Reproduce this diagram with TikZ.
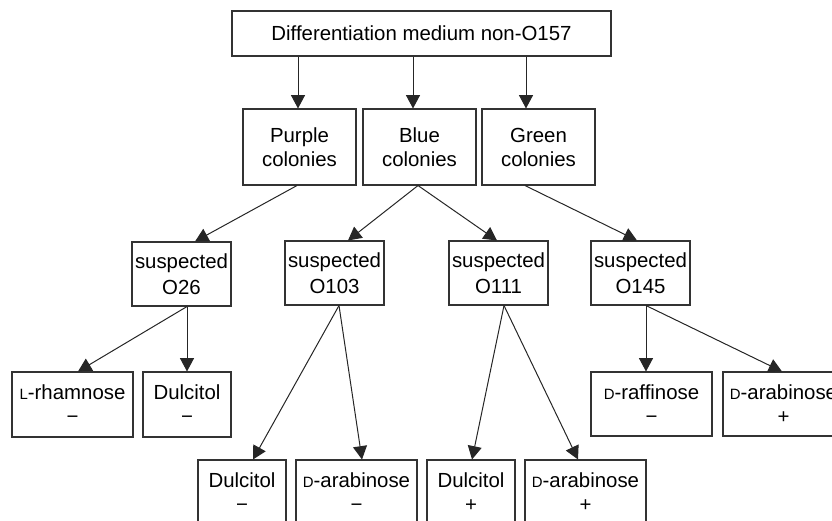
\documentclass[tikz,border=0pt]{standalone}
\usepackage{fontspec}
\setmainfont{Liberation Sans}
\usetikzlibrary{arrows.meta,calc}
\newcommand{\smc}[1]{{\fontsize{11.2}{11.2}\selectfont #1}}
\begin{document}
\begin{tikzpicture}[x=0.75pt,y=-0.75pt,
  box/.style 2 args={draw=black!80, line width=0.8pt, fill=white, align=center,
    inner sep=0pt, font=\fontsize{15.3}{18}\selectfont,
    minimum width=#1*0.75pt, minimum height=#2*0.75pt},
  wide/.style={font=\fontsize{15.3}{19.5}\selectfont},
  arr/.style={draw=black!85, line width=0.75pt, -{Triangle[length=10pt,width=10.5pt]}}]
\useasboundingbox (0,0) rectangle (832,521);
\clip (0,0) rectangle (832,521);
% level 1
\node[box={379}{45}] (top) at (421.5,33.5) {Differentiation medium non-O157};
% level 2
\node[box={113}{76}] (purple) at (299.5,147) {Purple\\colonies};
\node[box={113}{76}] (blue) at (419.5,147) {Blue\\colonies};
\node[box={113}{76}] (green) at (538.5,147) {Green\\colonies};
% level 3
\node[box={99}{64},wide] (o26) at (181.5,274) {suspected\\O26};
\node[box={99}{64},wide] (o103) at (334.5,273) {suspected\\O103};
\node[box={99}{64},wide] (o111) at (498.5,273) {suspected\\O111};
\node[box={99}{64},wide] (o145) at (640.5,273) {suspected\\O145};
% level 4
\node[box={121}{65}] (lrham) at (72.5,404.5) {\smc{L}-rhamnose\\−};
\node[box={88}{65}] (dulA) at (187,404.5) {Dulcitol\\−};
\node[box={121}{64}] (draff) at (651.5,404) {\smc{D}-raffinose\\−};
\node[box={121}{64}] (darabR) at (783.5,404) {\smc{D}-arabinose\\+};
% level 5
\node[box={88}{65}] (dulB) at (242,492.5) {Dulcitol\\−};
\node[box={121}{65}] (darabB) at (356.5,492.5) {\smc{D}-arabinose\\−};
\node[box={88}{65}] (dulC) at (471,492.5) {Dulcitol\\+};
\node[box={121}{65}] (darabC) at (585.5,492.5) {\smc{D}-arabinose\\+};
% level 1 -> 2
\coordinate (pA) at ($(purple.north)+(-1.5,0)$);
\coordinate (bA) at ($(blue.north)+(-6.5,0)$);
\coordinate (gA) at ($(green.north)+(-12.5,0)$);
\draw[arr] (pA |- top.south) -- (pA);
\draw[arr] (bA |- top.south) -- (bA);
\draw[arr] (gA |- top.south) -- (gA);
% level 2 -> 3
\coordinate (pS) at ($(purple.south)+(-2.5,0)$);
\coordinate (bS) at ($(blue.south)+(-1.5,0)$);
\coordinate (gS) at ($(green.south)+(-13.5,0)$);
\draw[arr] (pS) -- ($(o26.north)+(13.5,0)$);
\draw[arr] (bS) -- ($(o103.north)+(13.5,0)$);
\draw[arr] (bS) -- ($(o111.north)+(-1.5,0)$);
\draw[arr] (gS) -- ($(o145.north)+(-3.5,0)$);
% level 3 -> 4/5
\coordinate (s26) at ($(o26.south)+(5.5,0)$);
\coordinate (s103) at ($(o103.south)+(4.5,0)$);
\coordinate (s111) at ($(o111.south)+(5.5,0)$);
\coordinate (s145) at ($(o145.south)+(5.5,0)$);
\draw[arr] (s26) -- ($(lrham.north)+(5.5,0)$);
\draw[arr] (s26) -- (dulA.north);
\draw[arr] (s103) -- ($(dulB.north)+(11,0)$);
\draw[arr] (s103) -- ($(darabB.north)+(5.5,0)$);
\draw[arr] (s111) -- ($(dulC.north)+(1,0)$);
\draw[arr] (s111) -- ($(darabC.north)+(-7.5,0)$);
\draw[arr] (s145) -- ($(draff.north)+(-5.5,0)$);
\draw[arr] (s145) -- ($(darabR.north)+(-1.5,0)$);
\end{tikzpicture}
\end{document}
